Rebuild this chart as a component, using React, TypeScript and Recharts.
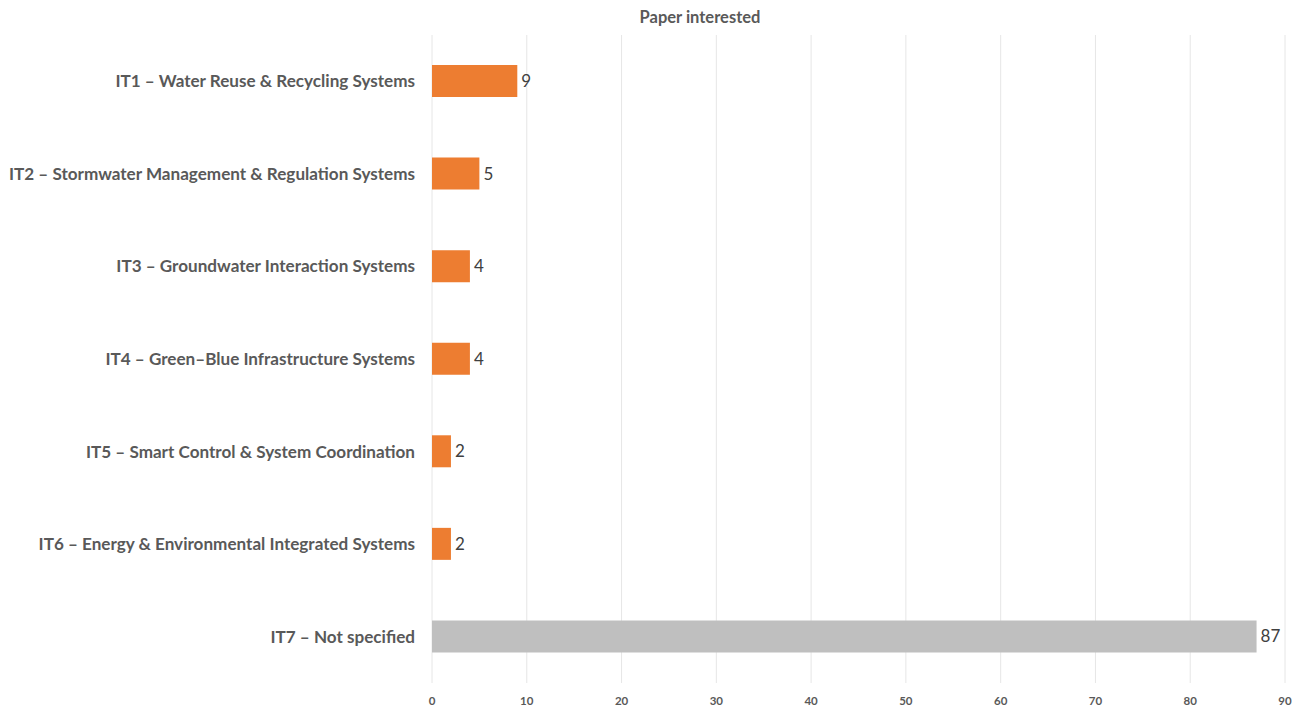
import { BarChart, Bar, XAxis, YAxis, CartesianGrid, LabelList, Cell } from 'recharts';

const categories = [
  'IT1 – Water Reuse & Recycling Systems',
  'IT2 – Stormwater Management & Regulation Systems',
  'IT3 – Groundwater Interaction Systems',
  'IT4 – Green–Blue Infrastructure Systems',
  'IT5 – Smart Control & System Coordination',
  'IT6 – Energy & Environmental Integrated Systems',
  'IT7 – Not specified',
];
const papers = [9, 5, 4, 4, 2, 2, 87];
const barColors = ['#ED7D31', '#ED7D31', '#ED7D31', '#ED7D31', '#ED7D31', '#ED7D31', '#BFBFBF'];
const xTicks = [0, 10, 20, 30, 40, 50, 60, 70, 80, 90];

const data = categories.map((name, i) => ({ name, value: papers[i] }));

const FONT = 'Lato, "Open Sans", sans-serif';

export default function App() {
  return (
    <div style={{ position: 'absolute', left: 0, top: 0, width: 1300, height: 709, background: '#fff' }}>
      <BarChart
        width={1300}
        height={709}
        data={data}
        layout="vertical"
        margin={{ top: 35, right: 15, bottom: 0, left: 0 }}
        barSize={32}
      >
        <text x={700} y={23} textAnchor="middle" fontFamily={FONT} fontWeight="bold" fontSize={16.5} fill="#595959">
          Paper interested
        </text>
        <CartesianGrid horizontal={false} stroke="#E6E6E6" />
        <XAxis
          type="number"
          domain={[0, 90]}
          ticks={xTicks}
          axisLine={false}
          tickLine={false}
          height={26}
          tickMargin={8}
          tick={{ fontFamily: FONT, fontSize: 11.5, fontWeight: 'bold', fill: '#595959' }}
        />
        <YAxis
          type="category"
          dataKey="name"
          width={432}
          axisLine={false}
          tickLine={false}
          tickMargin={11}
          tick={{ fontFamily: FONT, fontSize: 17.1, fontWeight: 'bold', fill: '#595959' }}
        />
        <Bar dataKey="value" isAnimationActive={false}>
          {data.map((d, i) => (
            <Cell key={d.name} fill={barColors[i]} />
          ))}
          <LabelList dataKey="value" position="right" offset={4} style={{ fontFamily: FONT, fontSize: 17, fill: '#404040' }} />
        </Bar>
      </BarChart>
    </div>
  );
}
